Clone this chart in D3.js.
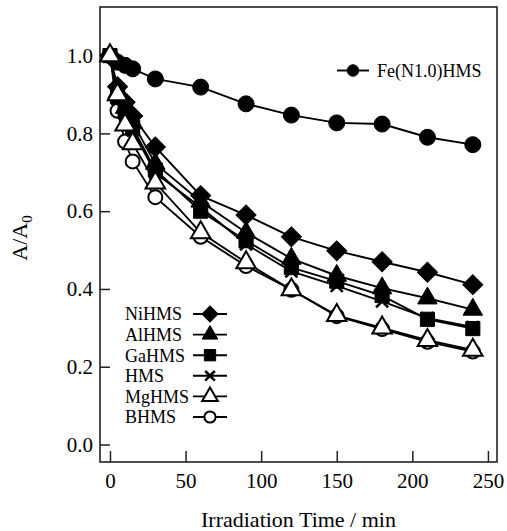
<!DOCTYPE html>
<html>
<head>
<meta charset="utf-8">
<script src="https://cdnjs.cloudflare.com/ajax/libs/d3/7.8.5/d3.min.js"></script>
<style>
  html, body { margin: 0; padding: 0; background: #fff; }
  svg { display: block; }
  text { font-family: "Liberation Serif", "Times New Roman", serif; fill: #000; }
</style>
</head>
<body>
<svg id="chart" width="507" height="531"></svg>
<script>
// Irradiation time (min) at which absorbance was measured
const times = [0, 5, 10, 15, 30, 60, 90, 120, 150, 180, 210, 240];

// Relative absorbance A/A0 for each catalyst
const feN10HMS = [1.0, 0.983, 0.975, 0.966, 0.940, 0.919, 0.876, 0.847, 0.827, 0.824, 0.790, 0.771];
const niHMS    = [1.0, 0.920, 0.880, 0.845, 0.765, 0.640, 0.590, 0.534, 0.498, 0.470, 0.443, 0.411];
const alHMS    = [1.0, 0.905, 0.866, 0.828, 0.722, 0.625, 0.545, 0.478, 0.434, 0.402, 0.376, 0.347];
const gaHMS    = [1.0, 0.895, 0.856, 0.815, 0.706, 0.600, 0.524, 0.455, 0.420, 0.383, 0.322, 0.298];
const hms      = [1.0, 0.888, 0.850, 0.808, 0.698, 0.610, 0.515, 0.445, 0.408, 0.368, 0.325, 0.302];
const mgHMS    = [1.0, 0.900, 0.822, 0.774, 0.673, 0.545, 0.468, 0.398, 0.332, 0.300, 0.268, 0.243];
const bHMS     = [1.0, 0.858, 0.779, 0.728, 0.636, 0.534, 0.459, 0.398, 0.330, 0.297, 0.264, 0.239];

const xTicks = [0, 50, 100, 150, 200, 250];
const yTicks = [0.0, 0.2, 0.4, 0.6, 0.8, 1.0];

const svg = d3.select("#chart");
const plotLeft = 100, plotRight = 497, plotTop = 7, plotBottom = 462;

const x = d3.scaleLinear().domain([-6.6, 256]).range([plotLeft, plotRight]);
const y = d3.scaleLinear().domain([-0.045, 1.125]).range([plotBottom, plotTop]);

// Axes with inward ticks
const gx = svg.append("g").attr("transform", `translate(0,${plotBottom})`)
  .call(d3.axisBottom(x).tickValues(xTicks).tickSizeInner(-11).tickSizeOuter(0).tickPadding(11).tickFormat(d3.format("d")));
const gy = svg.append("g").attr("transform", `translate(${plotLeft},0)`)
  .call(d3.axisLeft(y).tickValues(yTicks).tickSizeInner(-10).tickSizeOuter(0).tickPadding(7).tickFormat(d3.format(".1f")));
[gx, gy].forEach(g => {
  g.select(".domain").remove();
  g.selectAll(".tick line").attr("stroke", "#222").attr("stroke-width", 1.5);
  g.selectAll(".tick text").style("font-size", "21px").attr("fill", "#000");
});
gx.selectAll(".tick text").attr("dy", "0.71em");

// Plot frame
svg.append("rect")
  .attr("x", plotLeft).attr("y", plotTop)
  .attr("width", plotRight - plotLeft).attr("height", plotBottom - plotTop)
  .attr("fill", "none").attr("stroke", "#222").attr("stroke-width", 1.6);

// Axis titles
svg.append("text")
  .attr("x", (plotLeft + plotRight) / 2).attr("y", 527)
  .attr("text-anchor", "middle").style("font-size", "22px")
  .text("Irradiation Time / min");

const yl = svg.append("text")
  .attr("transform", "translate(27,238) rotate(-90)")
  .attr("text-anchor", "middle").style("font-size", "22px");
yl.append("tspan").text("A/A");
yl.append("tspan").attr("dy", 5).style("font-size", "15px").text("0");

// Marker shapes
function markerPath(kind, s) {
  if (kind === "diamond") return d3.symbol(d3.symbolSquare, 200 * s * s)();
  if (kind === "square") return d3.symbol(d3.symbolSquare, 200 * s * s)();
  if (kind === "triangle") return d3.symbol(d3.symbolTriangle, 165 * s * s)();
  if (kind === "circle") return d3.symbol(d3.symbolCircle, Math.PI * 49 * s * s)();
  if (kind === "bigcircle") return d3.symbol(d3.symbolCircle, Math.PI * 64 * s * s)();
  if (kind === "cross") { const h = 6 * s; return `M${-h},${-h}L${h},${h}M${-h},${h}L${h},${-h}`; }
}

function drawMarker(g, kind, open, cx, cy, s) {
  const p = g.append("path")
    .attr("d", markerPath(kind, s))
    .attr("transform", `translate(${cx},${cy})` + (kind === "diamond" ? " rotate(45)" : ""));
  if (kind === "cross") {
    p.attr("fill", "none").attr("stroke", "#000").attr("stroke-width", 2.6);
  } else if (open) {
    p.attr("fill", "#fff").attr("stroke", "#000").attr("stroke-width", 2);
  } else {
    p.attr("fill", "#000").attr("stroke", "#000").attr("stroke-width", 1);
  }
}

const series = [
  { name: "Fe(N1.0)HMS", values: feN10HMS, kind: "bigcircle", open: false },
  { name: "BHMS",   values: bHMS,  kind: "circle",   open: true },
  { name: "HMS",    values: hms,   kind: "cross",    open: false },
  { name: "GaHMS",  values: gaHMS, kind: "square",   open: false },
  { name: "AlHMS",  values: alHMS, kind: "triangle", open: false },
  { name: "NiHMS",  values: niHMS, kind: "diamond",  open: false },
  { name: "MgHMS",  values: mgHMS, kind: "triangle", open: true }
];

const line = d3.line().x(d => x(d[0])).y(d => y(d[1]));
const plot = svg.append("g");

series.forEach(sr => {
  const pts = times.map((t, i) => [t, sr.values[i]]);
  const g = plot.append("g");
  g.append("path").attr("d", line(pts))
    .attr("fill", "none").attr("stroke", "#000").attr("stroke-width", 1.9);
  pts.forEach(p => drawMarker(g, sr.kind, sr.open, x(p[0]), y(p[1]), 1));
});

// Legends
const legendOrder = ["NiHMS", "AlHMS", "GaHMS", "HMS", "MgHMS", "BHMS"];
const lg = svg.append("g");
legendOrder.forEach((name, i) => {
  const sr = series.find(s => s.name === name);
  const ly = 314 + i * 20.6;
  lg.append("text").attr("x", 125).attr("y", ly).attr("dy", "0.35em")
    .style("font-size", "18px").text(name);
  lg.append("line").attr("x1", 193).attr("x2", 227).attr("y1", ly).attr("y2", ly)
    .attr("stroke", "#000").attr("stroke-width", 1.9);
  drawMarker(lg, sr.kind, sr.open, 210, ly, 0.8);
});

const fe = series[0];
svg.append("line").attr("x1", 337).attr("x2", 369).attr("y1", 70.5).attr("y2", 70.5)
  .attr("stroke", "#000").attr("stroke-width", 1.9);
drawMarker(svg, "bigcircle", false, 353, 70.5, 0.72);
svg.append("text").attr("x", 377).attr("y", 70.5).attr("dy", "0.35em")
  .style("font-size", "18px").text(fe.name);
</script>
</body>
</html>
